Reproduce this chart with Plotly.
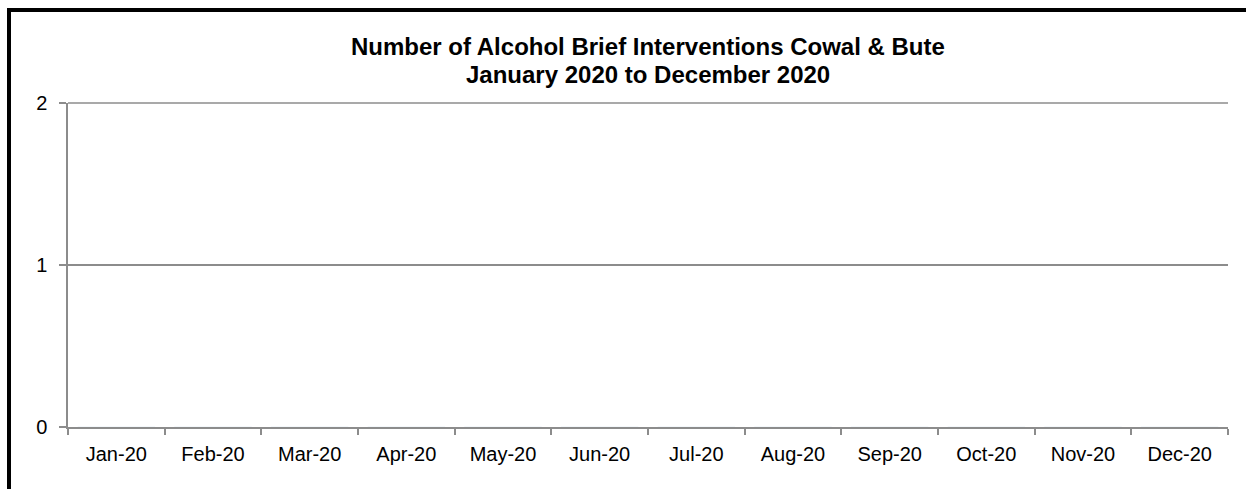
import plotly.graph_objects as go

categories = ["Jan-20", "Feb-20", "Mar-20", "Apr-20", "May-20", "Jun-20",
              "Jul-20", "Aug-20", "Sep-20", "Oct-20", "Nov-20", "Dec-20"]
interventions = [0, 0, 0, 0, 0, 0, 0, 0, 0, 0, 0, 0]
y_ticks = [0, 1, 2]
title_lines = ["Number of Alcohol Brief Interventions Cowal &amp; Bute",
               "January 2020 to December 2020"]

W, H = 1246, 489
ml, mr, mt, mb = 68, 18, 103, 62
pw, ph = W - ml - mr, H - mt - mb
GRID = "#8c8c8c"

def px_x(x):
    return (x - ml) / pw

def px_y(y):
    return (H - mb - y) / ph

fig = go.Figure()
fig.add_trace(go.Bar(x=categories, y=interventions, marker_color="#4F81BD"))

annotations = []
for txt, yc in zip(title_lines, [47, 74]):
    annotations.append(dict(
        text="<b>" + txt + "</b>", xref="paper", yref="paper",
        x=0.5, y=px_y(yc), xanchor="center", yanchor="middle", showarrow=False,
        font=dict(family="Liberation Sans, Arial, sans-serif", size=24, color="black"),
    ))

fig.update_layout(
    width=W, height=H,
    margin=dict(l=ml, r=mr, t=mt, b=mb),
    paper_bgcolor="white", plot_bgcolor="white",
    showlegend=False,
    font=dict(family="Liberation Sans, Arial, sans-serif", size=20, color="black"),
    annotations=annotations,
    xaxis=dict(
        type="category",
        showline=True, linecolor=GRID, linewidth=1.5,
        ticks="outside", tickson="boundaries", ticklen=6, tickcolor=GRID, tickwidth=1.5,
        showgrid=False, zeroline=False,
        tickfont=dict(size=20),
        ticklabelstandoff=8,
    ),
    yaxis=dict(
        range=[0, max(y_ticks)], tickvals=y_ticks,
        showline=True, linecolor=GRID, linewidth=1.5,
        ticks="outside", ticklen=7, tickcolor=GRID, tickwidth=1.5,
        showgrid=True, gridcolor=GRID, gridwidth=1.5,
        zeroline=False,
        tickfont=dict(size=20),
        ticklabelstandoff=8,
    ),
    shapes=[
        # top gridline (plotly drops the gridline at the range end)
        dict(type="line", xref="paper", yref="paper", x0=0, x1=1, y0=1, y1=1,
             line=dict(color=GRID, width=1.5), layer="below"),
        # outer chart border
        dict(type="rect", xref="paper", yref="paper",
             x0=px_x(9), x1=px_x(W + 20), y0=px_y(H + 20), y1=px_y(10),
             line=dict(color="black", width=4), fillcolor="rgba(0,0,0,0)", layer="above"),
    ],
)

fig.write_html("out.html", config={"displayModeBar": False},
               post_script="document.body.style.margin='0';")
